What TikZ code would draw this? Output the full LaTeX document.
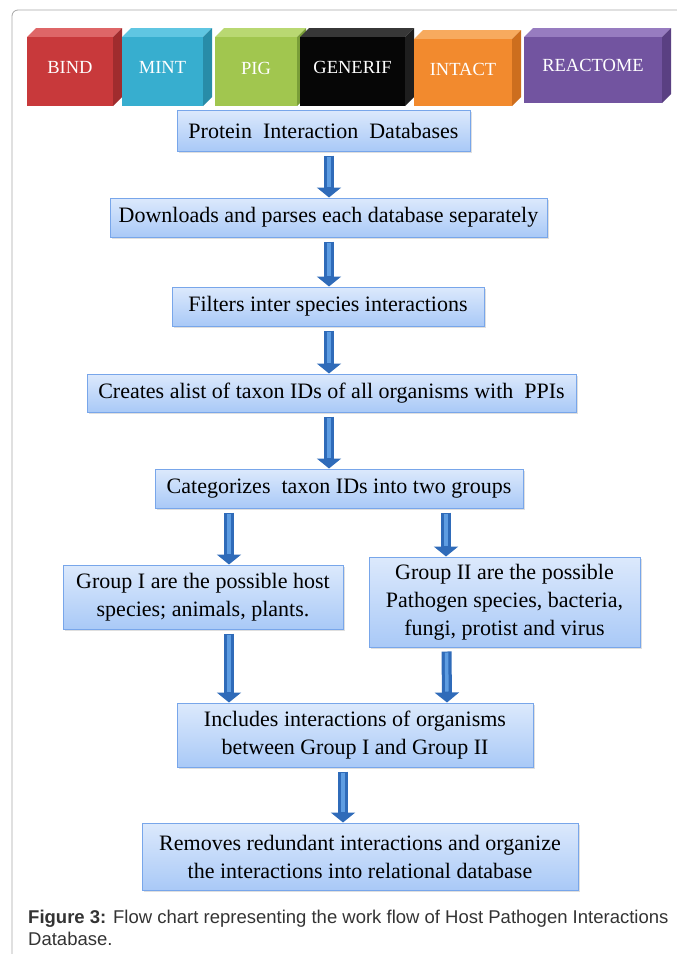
\documentclass[tikz,border=0pt]{standalone}
\usepackage{fontspec}
\setmainfont{Liberation Serif}
\newfontfamily\capfont{Liberation Sans}
\usepackage{tikz}
\usetikzlibrary{calc,positioning,arrows.meta,shadows}

\definecolor{boxedge}{HTML}{78A6EA}
\definecolor{boxtop}{HTML}{DCE9FC}
\definecolor{boxbot}{HTML}{A9C9F7}
\definecolor{arrowblue}{HTML}{2F6BB9}
\definecolor{arrowlight}{HTML}{5E9DE2}
\definecolor{captext}{HTML}{333333}

\tikzset{
  procbox/.style={draw=boxedge, line width=1pt, top color=boxtop, bottom color=boxbot,
    inner sep=0pt, align=center, font=\fontsize{22}{28}\selectfont,
    drop shadow={shadow xshift=1.5pt, shadow yshift=-2pt, opacity=0.25}},
  flow/.style={line width=10pt, draw=arrowblue, shorten <=4pt,
    -{Triangle[width=24pt,length=10pt]},
    postaction={draw=arrowlight, line width=3.5pt, -, shorten <=5pt, shorten >=11pt}},
  dblabel/.style={text=white, font=\fontsize{18.5}{20}\selectfont}
}

% top face, side face and front face of a database block
\newcommand{\dbcube}[9]{%
  \fill[#7] (#1,#4) -- (#1+9,#4-9) -- (#3+9,#4-9) -- (#3,#4) -- cycle;
  \fill[#8] (#3,#4) -- (#3+9,#4-9) -- (#3+9,#2-9) -- (#3,#2) -- cycle;
  \fill[#6] (#1,#2) rectangle (#3,#4);
  \node[dblabel] (#5) at ({(#1+#3)/2},#9) {#5};
}

\begin{document}
\begin{tikzpicture}[x=1pt,y=-1pt]
  \useasboundingbox (0,0) rectangle (677,954);
  \draw[gray!70, line width=0.8pt, rounded corners=6pt] (12,954) -- (12,10) -- (677,10);

  % databases
  \dbcube{27}{106}{113}{37}{BIND}{fill={rgb,255:red,200;green,57;blue,59}}{fill={rgb,255:red,222;green,102;blue,103}}{fill={rgb,255:red,160;green,44;blue,46}}{67}
  \dbcube{122}{106}{203}{37}{MINT}{fill={rgb,255:red,55;green,174;blue,207}}{fill={rgb,255:red,95;green,198;blue,226}}{fill={rgb,255:red,40;green,140;blue,168}}{67}
  \dbcube{215}{106}{297}{37}{PIG}{fill={rgb,255:red,161;green,198;blue,79}}{fill={rgb,255:red,185;green,216;blue,114}}{fill={rgb,255:red,122;green,158;blue,56}}{68}
  \dbcube{300}{106}{405}{37}{GENERIF}{fill={rgb,255:red,6;green,6;blue,6}}{fill={rgb,255:red,55;green,55;blue,55}}{fill={rgb,255:red,30;green,30;blue,30}}{67}
  \dbcube{414}{106}{512}{39}{INTACT}{fill={rgb,255:red,242;green,138;blue,46}}{fill={rgb,255:red,247;green,170;blue,94}}{fill={rgb,255:red,205;green,110;blue,30}}{69}
  \dbcube{524}{103}{662}{37}{REACTOME}{fill={rgb,255:red,114;green,84;blue,160}}{fill={rgb,255:red,151;green,124;blue,192}}{fill={rgb,255:red,90;green,64;blue,130}}{65}

  % steps
  \node[procbox, minimum width=293pt, minimum height=41pt] (prot) at (323.5,130.5) {Protein~ Interaction~ Databases};
  \node[procbox, minimum width=437pt, minimum height=39pt] (down) at (328.5,217.5) {Downloads and parses each database separately};
  \node[procbox, minimum width=312pt, minimum height=39pt] (filt) at (328,306.5) {Filters inter species interactions};
  \node[procbox, minimum width=489pt, minimum height=38pt] (creat) at (331.5,393) {Creates alist of taxon IDs of all organisms with~ PPIs};
  \node[procbox, minimum width=368pt, minimum height=39pt] (cat) at (339,488.5) {Categorizes~ taxon IDs into two groups};
  \node[procbox, minimum width=280pt, minimum height=64pt] (grpI) at (203,597) {Group I are the possible host\\species; animals, plants.};
  \node[procbox, minimum width=271pt, minimum height=90pt] (grpII) at (504.5,602) {Group II are the possible\\Pathogen species, bacteria,\\fungi, protist and virus};
  \node[procbox, minimum width=356pt, minimum height=64pt] (incl) at (355,735) {Includes interactions of organisms\\between Group I and Group II};
  \node[procbox, minimum width=436pt, minimum height=67pt] (rem) at (360,856.5) {Removes redundant interactions and organize\\the interactions into relational database};

  % arrows
  \draw[flow] ([xshift=5.5]prot.south) -- ([xshift=0.5]down.north);
  \draw[flow] ([xshift=0.5]down.south) -- ([xshift=1]filt.north);
  \draw[flow] ([xshift=1]filt.south) -- ([xshift=-2.5]creat.north);
  \draw[flow] ([xshift=-2.5]creat.south) -- ([xshift=-10]cat.north);
  \draw[flow] ([xshift=-110]cat.south) -- ([xshift=26]grpI.north);
  \draw[flow] ([xshift=107]cat.south) -- ([xshift=-58.5]grpII.north);
  \draw[flow] ([xshift=26]grpI.south) -- ([xshift=-126]incl.north);
  \draw[flow] ([xshift=-58]grpII.south) -- ([xshift=92]incl.north);
  \draw[flow] ([xshift=-12]incl.south) -- ([xshift=-17]rem.north);

  % caption
  \node[anchor=base west, text=captext, font=\capfont\fontsize{18.5}{20}\selectfont, inner sep=0pt] (cap1) at (28,923)
    {\textbf{Figure 3:} Flow chart representing the work flow of Host Pathogen Interactions};
  \node[anchor=base west, text=captext, font=\capfont\fontsize{18.5}{20}\selectfont, inner sep=0pt] (cap2) at (28,945) {Database.};
\end{tikzpicture}
\end{document}
